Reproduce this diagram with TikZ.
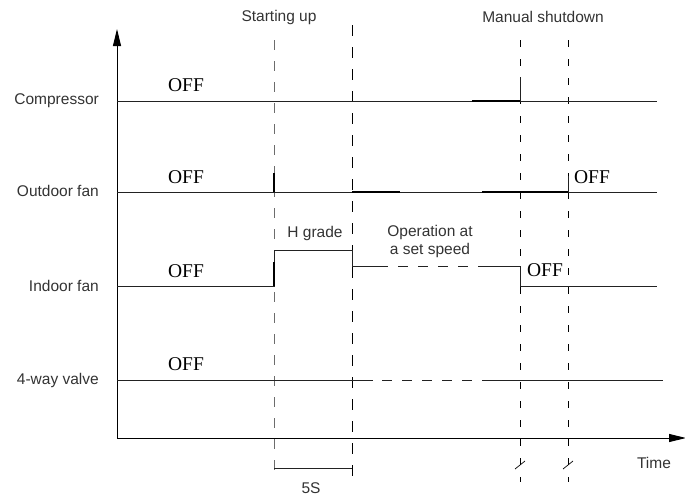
\documentclass[tikz,border=0pt]{standalone}
\usepackage{fontspec}
\setmainfont{Liberation Serif}
\setsansfont{Liberation Sans}
\usetikzlibrary{arrows.meta}
\definecolor{txt}{HTML}{333333}
\definecolor{ln}{HTML}{222222}
\begin{document}
\begin{tikzpicture}[x=1pt,y=-1pt,
  lbl/.style={font=\sffamily\fontsize{15.5}{18.5}\selectfont, text=txt, inner sep=0pt},
  offl/.style={font=\rmfamily\fontsize{19.5}{22}\selectfont, text=black, inner sep=0pt},
  sig/.style={draw=ln, line width=0.8pt},
  sigb/.style={draw=black, line width=1.3pt},
  sigd/.style={draw=ln, line width=0.8pt, dash pattern=on 10pt off 10pt},
  vgray/.style={draw=gray!85!black, line width=0.9pt, dash pattern=on 10pt off 11pt},
  vblack/.style={draw=black, line width=0.9pt, dash pattern=on 11pt off 11pt},
  vman/.style={draw=black, line width=0.9pt, dash pattern=on 7pt off 12pt},
  axis/.style={draw=black, line width=0.9pt}]
\useasboundingbox (0,0) rectangle (685,498);

% axes
\coordinate (O) at (117,438);
\coordinate (Ytop) at (117,29);
\coordinate (Xend) at (686,438);
\draw[axis, -{Triangle[length=17pt,width=8pt]}] (O) -- (Ytop);
\draw[axis, -{Triangle[length=17pt,width=8pt]}] (O) -- (Xend);

% vertical dashed markers
\coordinate (a1) at (274,40);  \coordinate (a2) at (274,478);
\coordinate (b1) at (352,25);  \coordinate (b2) at (352,478);
\coordinate (c1) at (520,40);  \coordinate (c2) at (520,482);
\coordinate (d1) at (568,40);  \coordinate (d2) at (568,482);
\draw[vgray] (a1) -- (a2);
\draw[vblack] (b1) -- (b2);
\draw[vman] (c1) -- (c2);
\draw[vman] (d1) -- (d2);

% break marks
\draw[black, line width=0.7pt] (515,469) -- (525,461);
\draw[black, line width=0.7pt] (563,469) -- (573,461);

% 5S bracket
\coordinate (s1) at (274,468); \coordinate (s2) at (352,468);
\draw[sig] (s1) -- (s2);
\node[lbl] (five) at (311,488) {5S};

% headings
\node[lbl] (start) at (279,17) {Starting up};
\node[lbl] (manual) at (543,17) {Manual shutdown};
\node[lbl] (time) at (654,463) {Time};

% left labels
\node[lbl, anchor=east] (comp) at (99,101) {Compressor};
\node[lbl, anchor=east] (outd) at (99,191) {Outdoor fan};
\node[lbl, anchor=east] (ind) at (99,286) {Indoor fan};
\node[lbl, anchor=east] (valve) at (99,380) {4-way valve};

% Compressor
\draw[sig] (117,101) -- (657,101);
\draw[sigb] (472,101) -- (520,101);
\draw[sig] (520,77) -- (520,101);
\node[offl] (off1) at (186,85) {OFF};

% Outdoor fan
\draw[sig] (117,192) -- (657,192);
\draw[sigb] (352,192) -- (400,192);
\draw[sigb] (482,192) -- (568,192);
\draw[sigb] (274,173) -- (274,192);
\draw[sig] (568,176) -- (568,192);
\node[offl] (off2) at (186,177) {OFF};
\node[offl] (off5) at (592,177) {OFF};

% Indoor fan
\draw[sig] (117,286) -- (274,286) -- (274,250) -- (352,250) -- (352,266) -- (388,266);
\draw[sigb] (274,286) -- (274,262);
\draw[sigd] (398,266) -- (486,266);
\draw[sig] (486,266) -- (520,266) -- (520,286) -- (657,286);
\node[offl] (off3) at (186,271) {OFF};
\node[offl] (off6) at (545,270) {OFF};
\node[lbl] (hgrade) at (315,233) {H grade};
\node[lbl, align=center] (oper) at (430,241.5) {Operation at\\a set speed};

% 4-way valve
\draw[sig] (117,380) -- (373,380);
\draw[sigd] (382,380) -- (483,380);
\draw[sig] (483,380) -- (663,380);
\node[offl] (off4) at (186,364) {OFF};
\end{tikzpicture}
\end{document}
